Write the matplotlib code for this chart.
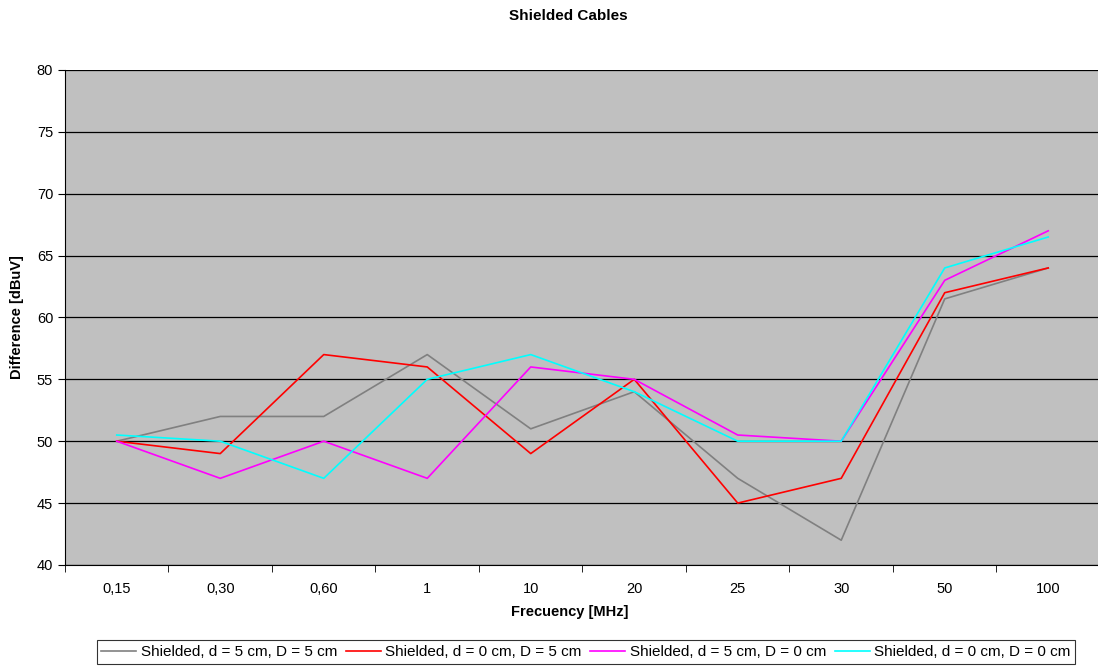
import numpy as np
import matplotlib
matplotlib.use("Agg")
import matplotlib.pyplot as plt

plt.rcParams['font.family'] = ['Liberation Sans', 'DejaVu Sans']

# Data
freqs = ["0,15", "0,30", "0,60", "1", "10", "20", "25", "30", "50", "100"]
d5_D5 = [50, 52, 52, 57, 51, 54, 47, 42, 61.5, 64]
d0_D5 = [50, 49, 57, 56, 49, 55, 45, 47, 62, 64]
d5_D0 = [50, 47, 50, 47, 56, 55, 50.5, 50, 63, 67]
d0_D0 = [50.5, 50, 47, 55, 57, 54, 50, 50, 64, 66.5]

labels = ["Shielded, d = 5 cm, D = 5 cm", "Shielded, d = 0 cm, D = 5 cm",
          "Shielded, d = 5 cm, D = 0 cm", "Shielded, d = 0 cm, D = 0 cm"]
colors = ["#808080", "#FF0000", "#FF00FF", "#00FFFF"]

fig = plt.figure(figsize=(10.98, 6.66), dpi=100)
# plot area runs slightly past the right edge, as in the reference
ax = fig.add_axes([0.0592, 0.1517, 0.9426, 0.7433])
ax.set_facecolor("#C0C0C0")

x = np.arange(len(freqs))
for series, lab, col in zip([d5_D5, d0_D5, d5_D0, d0_D0], labels, colors):
    ax.plot(x, series, color=col, lw=1.2, label=lab)

ax.set_xlim(-0.5, len(freqs) - 0.5)
ax.set_ylim(40, 80)
ax.set_yticks(np.arange(40, 81, 5))
ax.yaxis.grid(True, color="black", lw=0.9)
ax.set_axisbelow(True)

ax.set_xticks(x)
ax.set_xticklabels(freqs)
ax.set_xticks(np.arange(-0.5, len(freqs)), minor=True)
ax.tick_params(axis="x", which="major", length=0, labelsize=10.5, pad=12)
ax.tick_params(axis="x", which="minor", length=5, direction="out")
ax.tick_params(axis="y", length=5, direction="out", labelsize=10.5)

for s in ["top", "right"]:
    ax.spines[s].set_visible(False)
for s in ["left", "bottom"]:
    ax.spines[s].set_color("black")

fig.text(0.518, 0.976, "Shielded Cables", fontsize=11, fontweight="bold",
         ha="center", va="center")
ax.set_xlabel("Frecuency [MHz]", fontsize=10.5, fontweight="bold")
ax.xaxis.set_label_coords(0.488, -0.081)
ax.set_ylabel("Difference [dBuV]", fontsize=10.5, fontweight="bold", labelpad=9)

leg = fig.legend(loc="center", bbox_to_anchor=(0.5337, 0.021), ncol=4, frameon=True,
                 fancybox=False, edgecolor="black", fontsize=11,
                 handlelength=2.3, handletextpad=0.3, columnspacing=0.55,
                 borderpad=0.3)
leg.get_frame().set_linewidth(0.8)

fig.savefig("out.png", dpi=100)
